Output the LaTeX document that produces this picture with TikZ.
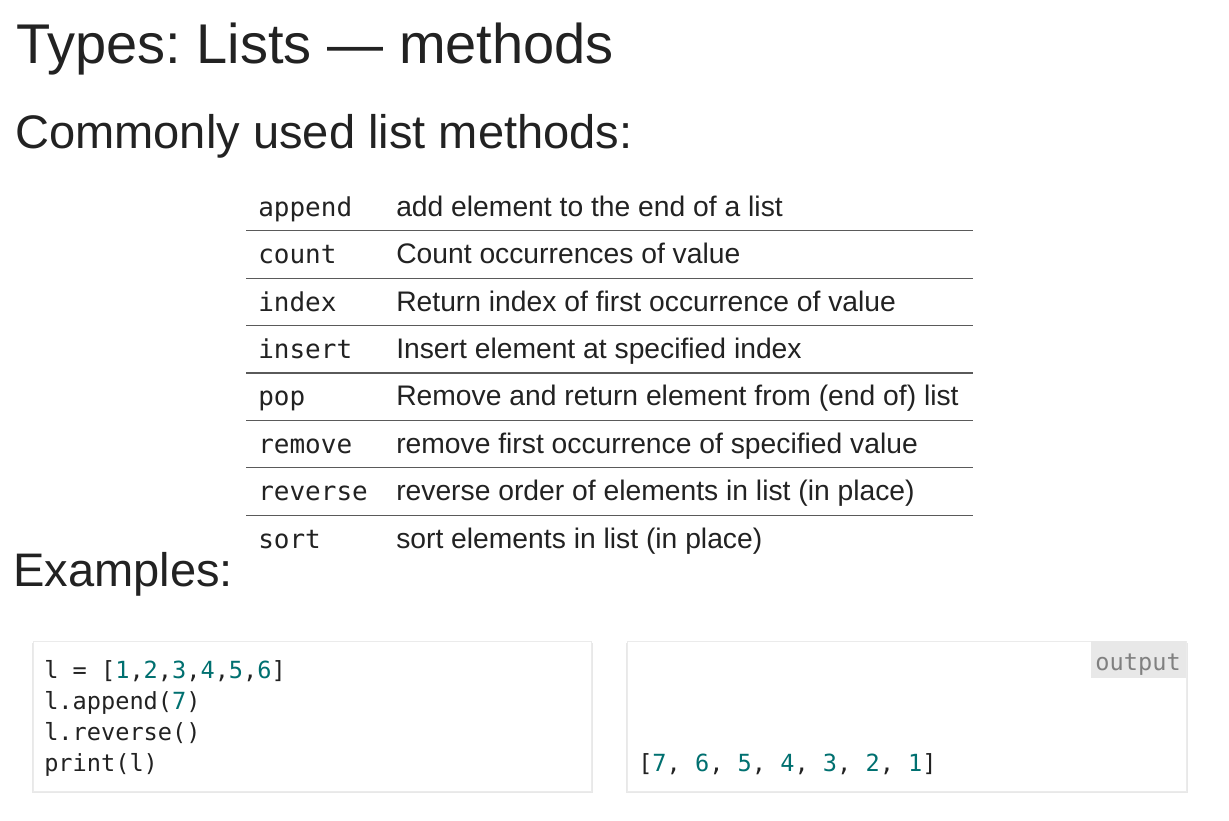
\documentclass[tikz,border=0pt]{standalone}
\usepackage{fontspec}
\setmainfont{Liberation Sans}
\setmonofont{DejaVu Sans Mono}
\frenchspacing

\definecolor{inktext}{RGB}{34,34,34}
\definecolor{numteal}{RGB}{0,112,112}
\definecolor{rulegray}{RGB}{90,90,90}
\definecolor{labelfill}{RGB}{232,232,232}
\definecolor{labeltext}{RGB}{128,128,128}
\newcommand{\numc}[1]{\textcolor{numteal}{#1}}

\tikzset{
  heading/.style={anchor=base west, inner sep=0pt, text=inktext, font=\fontsize{42}{50}\selectfont},
  subheading/.style={anchor=base west, inner sep=0pt, text=inktext, font=\fontsize{35.3}{42}\selectfont},
  methodname/.style={anchor=base west, inner sep=0pt, text=inktext, font=\ttfamily\fontsize{19.5}{23}\selectfont},
  methoddesc/.style={anchor=base west, inner sep=0pt, text=inktext, font=\fontsize{21.2}{25}\selectfont},
  codeline/.style={anchor=base west, inner sep=0pt, text=inktext, font=\ttfamily\fontsize{17.7}{21}\selectfont},
  tablerule/.style={draw=rulegray, line width=0.9pt},
  codebox/.style={fill=white, draw=black!8, line width=0.5pt},
  boxshadow/.style={fill=black!9, draw=none},
}

\begin{document}
\begin{tikzpicture}[x=0.75pt,y=0.75pt,yscale=-1,xscale=1]
\useasboundingbox[fill=white] (0,0) rectangle (1229,821);

% Text Node
\node[heading] (title) at (16,63) {Types: Lists — methods};
% Text Node
\node[subheading] (common) at (15,148) {Commonly used list methods:};
% Text Node
\node[subheading] (examples) at (13,586) {Examples:};

%Table rows
\foreach \m/\d [count=\i] in {append/add element to the end of a list,
    count/Count occurrences of value,
    index/Return index of first occurrence of value,
    insert/Insert element at specified index,
    pop/Remove and return element from (end of) list,
    remove/remove first occurrence of specified value,
    reverse/reverse order of elements in list (in place),
    sort/sort elements in list (in place)}{
  \node[methodname] (m\i) at (258,{216.2+47.4*(\i-1)}) {\m};
  \node[methoddesc] (d\i) at (396,{216.2+47.4*(\i-1)}) {\d};
}
%Straight Lines
\foreach \i in {1,...,7}
  \draw[tablerule] (246,{230.7+47.4*(\i-1)}) -- (973,{230.7+47.4*(\i-1)});

%Code box
\fill[boxshadow] (32,643) rectangle (593,793);
\draw[codebox] (33,641) rectangle (591,791);
% Text Node
\node[codeline] (c1) at (44,678) {l = [\numc{1},\numc{2},\numc{3},\numc{4},\numc{5},\numc{6}]};
\node[codeline] (c2) at (44,709) {l.append(\numc{7})};
\node[codeline] (c3) at (44,740) {l.reverse()};
\node[codeline] (c4) at (44,771) {print(l)};

%Output box
\fill[boxshadow] (626,643) rectangle (1188,793);
\draw[codebox] (627,641) rectangle (1186,791);
\fill[labelfill] (1091,641) rectangle (1186,678);
% Text Node
\node[codeline, text=labeltext, anchor=base east] (outlabel) at (1181,670) {output};
\node[codeline] (out) at (638,771) {[\numc{7}, \numc{6}, \numc{5}, \numc{4}, \numc{3}, \numc{2}, \numc{1}]};

\end{tikzpicture}
\end{document}
